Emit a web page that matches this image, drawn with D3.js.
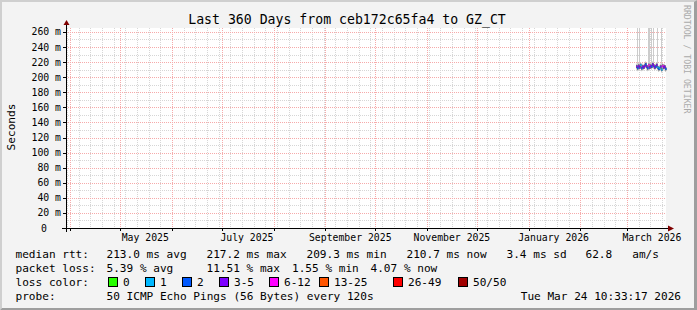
<!DOCTYPE html>
<html>
<head>
<meta charset="utf-8">
<script src="https://cdn.jsdelivr.net/npm/d3@7/dist/d3.min.js"></script>
<style>
body { margin: 0; background: #fff; }
svg text { font-family: "DejaVu Sans Mono", monospace; white-space: pre; }
</style>
</head>
<body>
<script>
// smokeping style graph, one year of data but only the last couple weeks have samples
var titleText = "Last 360 Days from ceb172c65fa4 to GZ_CT";
var endTime = new Date(Date.UTC(2026, 2, 24, 10, 33, 17));
var spanDays = 360;

var yTicks = [0, 20, 40, 60, 80, 100, 120, 140, 160, 180, 200, 220, 240, 260];
var yTickLabels = ["0", "20 m", "40 m", "60 m", "80 m", "100 m", "120 m", "140 m", "160 m", "180 m", "200 m", "220 m", "240 m", "260 m"];
var monthLabels = ["May 2025", "July 2025", "September 2025", "November 2025", "January 2026", "March 2026"];
var monthLabelStarts = ["2025-05-01", "2025-07-01", "2025-09-01", "2025-11-01", "2026-01-01", "2026-03-01"];

// samples: one per rrd step (14.4 h)
var firstSample = "2026-03-06T14:00:00Z";
var stepHours = 14.4;
var medianMs = [214, 212, 215, 213, 216, 212, 214, 213, 215, 217, 214, 212, 216, 213, 215, 214, 217, 215, 213, 214, 216, 213, 211, 212, 214, 210, 215, 213, 214, 211];
var lostPings = [3, 2, 4, 3, 1, 2, 4, 3, 5, 2, 3, 2, 6, 4, 3, 2, 4, 5, 3, 2, 3, 1, 2, 1, 4, 1, 6, 4, 3, 2];
// inner (dense) and outer smoke band per sample
var smokeInLowMs = [212, 210, 213, 211, 214, 210, 212, 211, 213, 215, 212, 210, 214, 211, 213, 212, 215, 213, 211, 212, 214, 211, 209, 210, 212, 208, 213, 211, 212, 209];
var smokeInHighMs = [216, 214, 217, 215, 218, 214, 216, 215, 217, 219, 216, 214, 218, 215, 217, 216, 219, 217, 215, 216, 218, 215, 213, 214, 216, 212, 217, 215, 216, 213];
var smokeLowMs = [210, 208, 211, 209, 212, 208, 210, 209, 211, 213, 210, 208, 212, 209, 211, 210, 213, 211, 209, 210, 212, 209, 207, 208, 210, 206, 211, 209, 210, 207];
var smokeHighMs = [218, 300, 219, 300, 220, 216, 218, 217, 219, 221, 218, 216, 300, 300, 219, 300, 221, 300, 217, 218, 220, 300, 215, 216, 218, 300, 219, 217, 218, 215];

var lossBins = ["0", "1", "2", "3-5", "6-12", "13-25", "26-49", "50/50"];
var lossBinMax = [0, 1, 2, 5, 12, 25, 49, 50];
var lossColors = ["#26ff00", "#00b8ff", "#0059ff", "#7e00ff", "#ff00ff", "#ff5500", "#ff0000", "#a10000"];

var rttStats = ["213.0 ms avg", "217.2 ms max", "209.3 ms min", "210.7 ms now", "3.4 ms sd", "62.8   am/s"];
var lossStats = ["5.39 % avg", "11.51 % max", "1.55 % min", "4.07 % now"];
var probeText = "50 ICMP Echo Pings (56 Bytes) every 120s";
var stampText = "Tue Mar 24 10:33:17 2026";

var W = 697, H = 310;
var svg = d3.select("body").append("svg")
	.attr("width", W)
	.attr("height", H);

// frame
svg.append("rect").attr("width", W).attr("height", H).attr("fill", "#f3f3f3");
svg.append("path").attr("d", "M0,0H" + W + "L" + (W - 2) + ",2H2V" + (H - 2) + "L0," + H + "Z").attr("fill", "#cfcfcf");
svg.append("path").attr("d", "M" + W + ",0V" + H + "H0L2," + (H - 2) + "H" + (W - 3) + "V2Z").attr("fill", "#9e9e9e");

var startTime = new Date(endTime.getTime() - spanDays * 86400000);
var x = d3.scaleUtc().domain([startTime, endTime]).range([66, 666]);
var y = d3.scaleLinear().domain([0, 265.25]).range([228, 28]);

svg.append("rect").attr("x", 66).attr("y", 28).attr("width", 600).attr("height", 200).attr("fill", "#fff");

var grid = svg.append("g").attr("stroke-dasharray", "1,1");
var minorY = d3.range(0, 266, 10);
grid.selectAll(".hmin").data(minorY).enter().append("line")
	.attr("x1", 66).attr("x2", 666)
	.attr("y1", function(d) { return Math.round(y(d)) + 0.5 })
	.attr("y2", function(d) { return Math.round(y(d)) + 0.5 })
	.attr("stroke", "#d6d6d6");
var weeks = d3.utcSunday.range(startTime, endTime);
grid.selectAll(".vmin").data(weeks).enter().append("line")
	.attr("x1", function(d) { return Math.round(x(d)) + 0.5 })
	.attr("x2", function(d) { return Math.round(x(d)) + 0.5 })
	.attr("y1", 28).attr("y2", 228)
	.attr("stroke", "#d6d6d6");
grid.selectAll(".hmaj").data(yTicks).enter().append("line")
	.attr("x1", 66).attr("x2", 666)
	.attr("y1", function(d) { return Math.round(y(d)) + 0.5 })
	.attr("y2", function(d) { return Math.round(y(d)) + 0.5 })
	.attr("stroke", "#f6aaaa");
var months = d3.utcMonth.range(startTime, endTime);
grid.selectAll(".vmaj").data(months).enter().append("line")
	.attr("x1", function(d) { return Math.round(x(d)) + 0.5 })
	.attr("x2", function(d) { return Math.round(x(d)) + 0.5 })
	.attr("y1", 28).attr("y2", 228)
	.attr("stroke", "#f6aaaa");

// samples
var t0 = new Date(firstSample).getTime();
var samples = medianMs.map(function(m, i) {
	return {
		t: new Date(t0 + i * stepHours * 3600000),
		med: m, lost: lostPings[i],
		lo: smokeLowMs[i], hi: smokeHighMs[i],
		ilo: smokeInLowMs[i], ihi: smokeInHighMs[i]
	};
});
var plot = svg.append("g");
var colW = x(new Date(t0 + stepHours * 3600000)) - x(new Date(t0));
plot.selectAll(".smoke").data(samples).enter().append("rect")
	.attr("x", function(d) { return Math.round(x(d.t)) })
	.attr("width", 1)
	.attr("y", function(d) { return Math.max(28, y(d.hi)) })
	.attr("height", function(d) { return y(d.lo) - Math.max(28, y(d.hi)) })
	.attr("fill", "#cccccc");
plot.selectAll(".smokein").data(samples).enter().append("rect")
	.attr("x", function(d) { return x(d.t) })
	.attr("width", colW + 0.3)
	.attr("y", function(d) { return y(d.ihi) })
	.attr("height", function(d) { return y(d.ilo) - y(d.ihi) })
	.attr("fill", "#3a3a4a");
plot.selectAll(".med").data(samples).enter().append("rect")
	.attr("x", function(d) { return x(d.t) })
	.attr("width", colW + 0.3)
	.attr("y", function(d) { return y(d.med) - 1 })
	.attr("height", 2)
	.attr("fill", function(d) {
		var k = 0;
		while (d.lost > lossBinMax[k]) k++;
		return lossColors[k];
	});

// axes
var ax = svg.append("g").attr("stroke", "#000");
ax.append("line").attr("x1", 62).attr("x2", 670).attr("y1", 228.5).attr("y2", 228.5);
ax.append("line").attr("x1", 66.5).attr("x2", 66.5).attr("y1", 232).attr("y2", 24);
ax.selectAll(".yt").data(yTicks).enter().append("line")
	.attr("x1", 63).attr("x2", 66)
	.attr("y1", function(d) { return Math.round(y(d)) + 0.5 })
	.attr("y2", function(d) { return Math.round(y(d)) + 0.5 });
ax.selectAll(".xt").data(months).enter().append("line")
	.attr("x1", function(d) { return Math.round(x(d)) + 0.5 })
	.attr("x2", function(d) { return Math.round(x(d)) + 0.5 })
	.attr("y1", 229).attr("y2", 231);
svg.append("path").attr("d", "M63.5,25L66.5,20L69.5,25Z").attr("fill", "#7f0000");
svg.append("path").attr("d", "M668,225.5L674,228.5L668,231.5Z").attr("fill", "#7f0000");

svg.selectAll(".ylab").data(yTicks).enter().append("text")
	.attr("x", function(d, i) { return i === 0 ? 47 : 61 })
	.attr("y", function(d) { return y(d) + 3.5 })
	.attr("text-anchor", "end")
	.attr("font-size", "9.8px")
	.attr("fill", "#000")
	.text(function(d, i) { return yTickLabels[i] });

svg.selectAll(".xlab").data(monthLabelStarts).enter().append("text")
	.attr("x", function(d) { return x(d3.utcDay.offset(new Date(d + "T00:00:00Z"), 15)) })
	.attr("y", 240.5)
	.attr("text-anchor", "middle")
	.attr("font-size", "9.8px")
	.text(function(d, i) { return monthLabels[i] });

svg.append("text").attr("x", 347).attr("y", 24).attr("text-anchor", "middle")
	.attr("font-size", "13.2px").text(titleText);
svg.append("text").attr("transform", "translate(14.5,127) rotate(-90)").attr("text-anchor", "middle")
	.attr("font-size", "11.1px").text("Seconds");
svg.append("text").attr("transform", "translate(684,5) rotate(90)")
	.attr("font-size", "8.2px").attr("fill", "#aaaaaa").text("RRDTOOL / TOBI OETIKER");

// legend
var leg = svg.append("g").attr("font-size", "11.1px").attr("fill", "#000");
function legText(tx, ty, s) { leg.append("text").attr("x", tx).attr("y", ty).text(s) }
legText(15.5, 258, "median rtt:");
var rttX = [106.5, 206.5, 306.5, 406.5, 506.5, 585.5];
rttStats.forEach(function(s, i) { legText(rttX[i], 258, s) });
legText(15.5, 272, "packet loss:");
var lossX = [106.5, 206.5, 292, 370.5];
lossStats.forEach(function(s, i) { legText(lossX[i], 272, s) });
legText(15.5, 286, "loss color:");
var swX = [108.5, 145.5, 182.5, 219.5, 269.5, 319.5, 393.5, 458.5];
lossBins.forEach(function(s, i) {
	leg.append("rect").attr("x", swX[i]).attr("y", 277.5).attr("width", 9).attr("height", 9)
		.attr("fill", lossColors[i]).attr("stroke", "#000");
	legText(swX[i] + 14.5, 286, s);
});
legText(15.5, 300, "probe:");
legText(106.5, 300, probeText);
leg.append("text").attr("x", 681).attr("y", 300).attr("text-anchor", "end").text(stampText);
</script>
</body>
</html>
